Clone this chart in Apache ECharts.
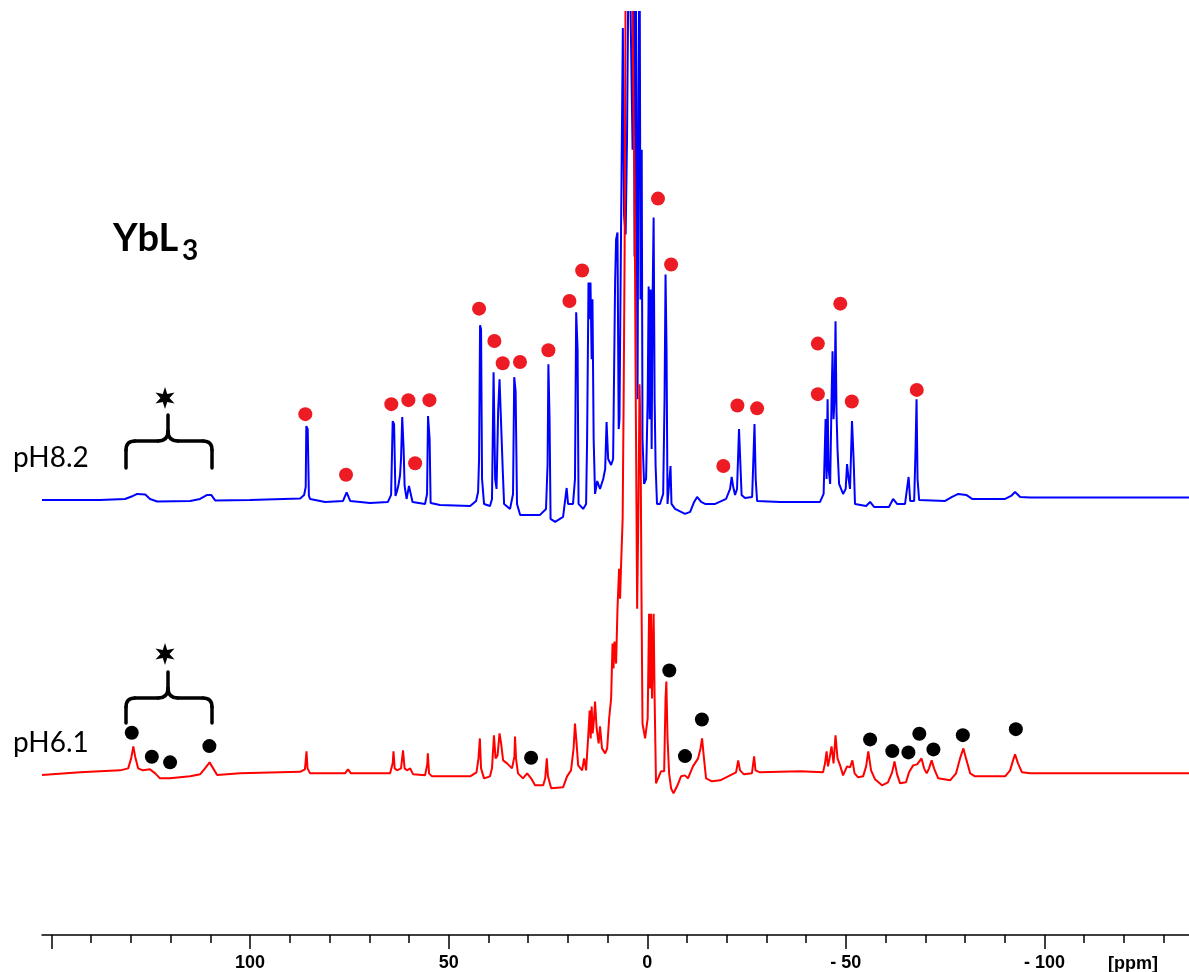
<!DOCTYPE html>
<html><head><meta charset="utf-8">
<script src="https://cdn.jsdelivr.net/npm/echarts@6/dist/echarts.min.js"></script>
<style>html,body{margin:0;padding:0;background:#fff}#c{width:1189px;height:972px}</style>
</head><body><div id="c"></div>
<script>
// [ppm, intensity] (intensity in arbitrary units above each baseline)
const bluePH82 = [[152.4,-1],[137.8,-1],[131.5,0],[129.5,3],[128.4,5],[126.4,4.5],[125.2,0],[123.4,-2.5],[115.1,-2],[112.6,0],[110.8,4],[109.8,4],[108.8,-1.5],[100.0,-1],[87.4,0.5],[86.4,4],[86.0,12],[85.85,73],[85.5,70],[85.2,3],[84.9,0],[81.1,-3],[76.6,-2],[75.7,6.5],[74.8,-2],[69.8,-4],[65.3,-3],[64.5,4],[64.1,78],[63.75,75],[63.4,3],[63.0,8],[62.6,15],[62.25,24],[62.0,40],[61.7,82],[61.35,50],[61.1,13],[60.6,0],[60.0,13],[59.5,15],[59.1,-3],[55.95,-5],[55.45,5],[55.2,83],[54.8,60],[54.55,-4],[52.2,-6],[44.6,-7],[43.1,-2],[42.6,7],[42.35,40],[42.1,174],[41.85,170],[41.6,20],[41.1,-5],[39.6,-7],[39.1,0],[38.7,127],[38.3,20],[37.95,10],[37.55,88],[37.2,120],[36.8,120],[36.4,30],[36.05,-5],[34.55,-10],[33.8,5],[33.5,122],[33.15,108],[32.8,-5],[32.0,-16],[27.0,-16],[25.5,-10],[25.1,35],[24.9,135],[24.6,80],[24.35,-20],[23.2,-23],[21.2,-18],[20.3,11],[19.95,-5],[18.7,-5],[18.2,20],[17.9,187],[17.55,150],[17.3,-5],[16.15,-10],[15.4,-5],[15.15,60],[14.8,217],[14.5,180],[14.3,217],[14.0,140],[13.8,200],[13.5,60],[13.15,5],[12.6,18],[11.9,10],[11.1,20],[10.6,30],[10.25,77],[9.85,40],[9.1,34],[8.6,40],[8.1,217],[7.85,260],[7.5,267],[7.2,70],[7.0,80],[6.6,270],[6.15,472],[5.85,285],[5.45,265],[5.1,360],[4.6,600],[4.1,600],[3.7,350],[3.45,600],[3.2,243],[2.95,600],[2.7,343],[2.45,100],[2.2,407],[1.95,600],[1.7,200],[1.4,350],[1.2,60],[0.8,15],[0.3,20],[-0.1,100],[-0.35,213],[-0.6,80],[-0.85,210],[-1.1,50],[-1.35,203],[-1.6,282],[-1.85,100],[-2.1,33],[-2.45,-5],[-3.2,-5],[-4.0,5],[-4.35,100],[-4.6,225],[-4.85,150],[-5.1,-5],[-5.6,-5],[-5.85,33],[-6.1,-5],[-7.0,-10],[-9.5,-15],[-10.8,-13],[-11.8,-3],[-12.55,2],[-13.55,-3],[-14.55,-5],[-17.1,-5],[-19.85,0],[-20.85,10],[-21.25,22],[-21.6,13],[-22.1,4],[-22.6,10],[-23.1,70],[-23.35,72],[-23.75,4],[-24.6,1],[-26.4,2],[-26.8,50],[-27.0,75],[-27.3,20],[-27.65,-2],[-33.45,-3],[-43.5,-3],[-44.4,5],[-44.9,80],[-45.15,20],[-45.4,100],[-45.65,30],[-46.05,15],[-46.4,100],[-46.65,148],[-46.9,80],[-47.15,100],[-47.4,178],[-47.65,87],[-47.9,50],[-48.3,15],[-49.3,5],[-49.95,10],[-50.3,35],[-50.7,20],[-51.05,10],[-51.55,78],[-51.95,40],[-52.3,-5],[-55.1,-7],[-56.1,-3],[-57.1,-8],[-60.85,-8],[-61.9,0],[-62.9,-5],[-64.9,-5],[-65.4,10],[-65.8,22],[-66.2,-2],[-67.2,-2],[-67.55,50],[-67.8,100],[-68.05,20],[-68.45,-1],[-75.0,-2],[-76.75,2],[-78.3,5],[-80.3,4],[-81.8,0],[-90.1,0],[-91.6,3],[-92.6,7],[-93.9,2],[-96.4,1.5],[-114.0,1.5],[-136.4,1.5]];

const redPH61 = [[152.4,-1.7],[142.8,1],[132.7,3],[130.7,5],[129.95,15],[129.4,27],[128.95,17],[128.2,5],[127.0,3],[125.2,4],[124.7,6],[123.9,0],[122.7,-5],[120.2,-5],[115.1,-3],[112.6,-1],[111.35,5],[110.2,11],[109.6,7],[108.3,-1.7],[102.5,0],[87.4,1.5],[86.2,4],[85.8,22],[85.55,5],[84.9,0],[76.1,0],[75.35,4],[74.6,0],[64.75,0],[64.1,10],[63.9,22],[63.6,5],[63.0,3],[62.0,5],[61.5,23],[61.1,5],[60.5,3],[59.7,5],[58.95,-1],[55.95,-2],[55.4,9],[55.25,20],[54.95,0],[54.2,-3],[44.6,-3],[43.0,1],[42.5,15],[42.15,35],[41.85,5],[41.1,-5],[39.6,-3],[39.1,5],[38.6,38],[38.2,15],[37.7,18],[37.2,40],[36.8,30],[36.3,13],[35.3,10],[34.05,5],[33.45,17],[33.3,37],[33.05,15],[32.55,0],[31.3,-5],[30.25,0],[29.25,-5],[28.25,-12],[26.2,-12],[25.7,-5],[25.3,15],[25.0,-3],[24.2,-15],[21.2,-14],[20.2,-3],[19.2,3],[18.55,25],[18.2,50],[17.8,30],[17.4,8],[16.4,3],[15.9,15],[15.4,3],[14.9,35],[14.5,63],[14.25,35],[14.0,67],[13.75,40],[13.4,55],[13.15,72],[12.75,45],[12.25,30],[11.9,47],[11.4,25],[10.6,20],[10.1,25],[9.6,55],[9.1,75],[8.75,130],[8.5,105],[8.25,132],[7.85,110],[7.5,165],[7.1,205],[6.85,175],[6.6,208],[6.2,255],[5.95,375],[5.7,525],[5.45,800],[4.5,800],[3.8,800],[3.45,657],[3.2,595],[2.95,408],[2.55,165],[2.2,275],[1.95,390],[1.7,342],[1.45,175],[1.2,50],[0.55,35],[-0.1,55],[-0.45,160],[-0.7,85],[-0.95,160],[-1.2,75],[-1.6,160],[-1.85,75],[-2.2,-10],[-2.7,-12],[-3.45,2],[-4.25,2],[-4.6,75],[-4.8,92],[-5.1,35],[-5.5,0],[-6.0,-15],[-6.6,-20],[-7.5,-13],[-8.5,-3],[-9.5,-2],[-10.25,-5],[-11.5,7],[-12.8,15],[-13.4,25],[-13.8,35],[-14.15,20],[-14.8,-5],[-16.3,-8],[-18.35,-7],[-20.85,-2],[-22.35,1],[-22.9,13],[-23.35,3],[-24.35,-1],[-26.35,0],[-26.9,17],[-27.25,3],[-28.4,1],[-38.5,2],[-44.25,1],[-44.75,10],[-45.15,22],[-45.5,7],[-45.9,15],[-46.4,27],[-46.9,10],[-47.4,38],[-47.9,15],[-48.55,8],[-49.3,-2],[-50.3,7],[-51.05,6],[-51.65,13],[-52.2,0],[-53.1,-4],[-54.35,-3],[-55.1,7],[-55.65,22],[-56.35,3],[-57.35,-6],[-59.1,-12],[-60.6,-9],[-61.65,1],[-62.25,12],[-62.9,-1],[-63.65,-10],[-65.15,-9],[-65.9,1],[-66.95,8],[-67.95,9],[-69.05,15],[-69.7,5],[-70.35,0],[-70.95,5],[-71.6,13],[-72.2,5],[-73.25,-5],[-76.25,-7],[-77.75,0],[-78.75,15],[-79.6,25],[-80.25,15],[-81.3,0],[-82.55,-3],[-90.1,-3],[-91.35,3],[-92.1,13],[-92.6,19],[-93.35,10],[-94.35,1],[-96.4,0],[-114.0,0],[-136.4,0]];

// peak markers
const redMarks = [[86.1,85],[75.85,24.3],[64.45,95],[60.15,99],[58.45,35.7],[54.85,99],[42.35,190.7],[38.5,158.3],[36.4,136],[32.05,137.3],[24.9,149],[19.6,198.3],[16.4,229],[-2.7,301],[-6.0,235],[-19.15,33],[-22.7,93.7],[-27.65,90.8],[-42.95,155.7],[-42.95,105],[-48.6,195.7],[-51.5,97.7],[-67.85,109.3]];
const blackMarks = [[129.8,40.7],[124.75,16.7],[120.15,11],[110.25,27.3],[29.25,15.7],[-5.55,103],[-9.5,17.3],[-13.75,54],[-56.1,34],[-61.7,22.3],[-65.75,21],[-68.5,39.7],[-72.05,24],[-79.45,38.3],[-92.8,44.3]];

// axis ticks / labels
const majorTicks = [150, 100, 50, 0, -50, -100];
const labelTicks = [100, 50, 0, -50, -100];
const minorTicks = [150,140,130,120,110,100,90,80,70,60,50,40,30,20,10,0,-10,-20,-30,-40,-50,-60,-70,-80,-90,-100,-110,-120,-130];

const X_MIN = -136.4, X_MAX = 152.4;

function star(cx, cy, R, r) {
  const pts = [];
  for (let i = 0; i < 12; i++) {
    const a = -Math.PI / 2 + i * Math.PI / 6;
    const rad = i % 2 ? r : R;
    pts.push([cx + rad * Math.cos(a), cy + rad * Math.sin(a)]);
  }
  return pts;
}
const braceStyle = {fill: null, stroke: '#000', lineWidth: 3.5, lineCap: 'round'};
function brace(xl, xm, xr, yh, yb, yt) {
  const L = (x1, y1, x2, y2) => ({type: 'line', shape: {x1, y1, x2, y2}, style: braceStyle});
  const Q = (x1, y1, cpx1, cpy1, x2, y2) => ({type: 'bezierCurve', shape: {x1, y1, cpx1, cpy1, x2, y2}, style: braceStyle});
  return [
    L(xl, yb, xl, yh + 9), Q(xl, yh + 9, xl, yh, xl + 9, yh), L(xl + 9, yh, xm - 10, yh),
    Q(xm - 10, yh, xm, yh, xm, yh - 10), L(xm, yh - 10, xm, yt),
    Q(xm, yh - 10, xm, yh, xm + 10, yh), L(xm + 10, yh, xr - 9, yh),
    Q(xr - 9, yh, xr, yh, xr, yh + 9), L(xr, yh + 9, xr, yb)
  ];
}

const chart = echarts.init(document.getElementById('c'), null, {renderer: 'canvas'});
const lblFont = {fontFamily: 'Liberation Sans', fontWeight: 'bold', fontSize: 18, color: '#000'};
chart.setOption({
  animation: false,
  backgroundColor: '#fff',
  grid: {left: 42, right: 0, top: 12, bottom: 35, containLabel: false},
  xAxis: [
    {
      type: 'value', inverse: true, min: X_MIN, max: X_MAX, position: 'bottom',
      splitLine: {show: false},
      axisLine: {show: true, onZero: false, lineStyle: {color: '#000', width: 1.5}},
      axisTick: {show: true, customValues: majorTicks, length: 14, lineStyle: {color: '#000', width: 1.5}},
      axisLabel: Object.assign({show: true, customValues: labelTicks, margin: 19,
        formatter: v => v < 0 ? '- ' + (-v) : String(v)}, lblFont)
    },
    {
      type: 'value', inverse: true, min: X_MIN, max: X_MAX, position: 'bottom',
      splitLine: {show: false},
      axisLine: {show: false, onZero: false},
      axisTick: {show: true, customValues: minorTicks, length: 8, lineStyle: {color: '#000', width: 1.5}},
      axisLabel: {show: false}
    }
  ],
  yAxis: [
    {type: 'value', show: false, min: -437, max: 488, splitLine: {show: false}},
    {type: 'value', show: false, min: -162, max: 763, splitLine: {show: false}}
  ],
  series: [
    {type: 'line', name: 'pH8.2', data: bluePH82, xAxisIndex: 0, yAxisIndex: 0, showSymbol: false, clip: true,
      lineStyle: {color: '#0000ff', width: 2}, itemStyle: {color: '#0000ff'}, z: 2},
    {type: 'line', name: 'pH6.1', data: redPH61, xAxisIndex: 0, yAxisIndex: 1, showSymbol: false, clip: true,
      lineStyle: {color: '#ff0000', width: 2}, itemStyle: {color: '#ff0000'}, z: 3},
    {type: 'scatter', data: redMarks, xAxisIndex: 0, yAxisIndex: 0, symbolSize: 14,
      itemStyle: {color: '#ed1c24', opacity: 1}, z: 4},
    {type: 'scatter', data: blackMarks, xAxisIndex: 0, yAxisIndex: 1, symbolSize: 14,
      itemStyle: {color: '#000', opacity: 1}, z: 4}
  ],
  graphic: [
    {type: 'text', x: 1108, y: 955, style: {text: '[ppm]', font: 'bold 18px "Liberation Sans"', fill: '#000'}},
    {type: 'text', x: 113, y: 220, style: {text: 'YbL', font: 'bold 38px Lato', fill: '#000'}},
    {type: 'text', x: 182, y: 237, style: {text: '3', font: 'bold 28px Lato', fill: '#000'}},
    {type: 'text', x: 13, y: 444, style: {text: 'pH8.2', font: '28px Lato', fill: '#000'}},
    {type: 'text', x: 13, y: 729, style: {text: 'pH6.1', font: '28px Lato', fill: '#000'}},
    ...brace(126, 168, 212, 441, 468, 415),
    ...brace(126, 168, 212, 698, 723, 672),
    {type: 'polygon', shape: {points: star(165, 398, 11, 4.5)}, style: {fill: '#000'}},
    {type: 'polygon', shape: {points: star(165, 654, 11, 4.5)}, style: {fill: '#000'}}
  ]
});
</script>
</body></html>
